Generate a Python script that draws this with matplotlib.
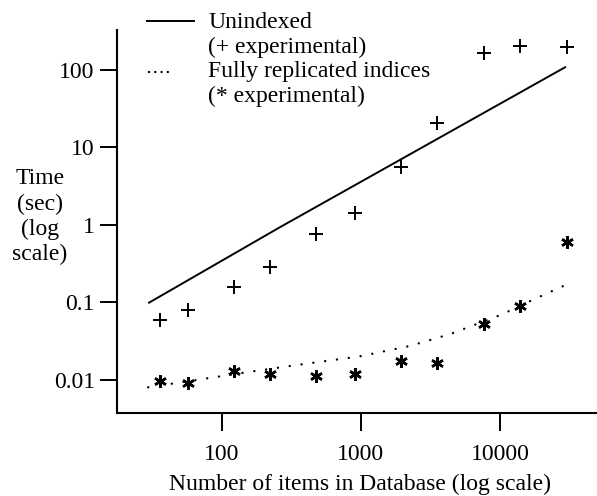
import matplotlib
matplotlib.use("Agg")
import matplotlib.pyplot as plt
from matplotlib.lines import Line2D

plt.rcParams['font.family'] = ['Liberation Serif', 'DejaVu Serif']

# ---- data ----
db_sizes = [36, 57, 123, 222, 477, 905, 1950, 3530, 7700, 14000, 30600]
t_unindexed_exp = [0.059, 0.080, 0.157, 0.286, 0.766, 1.42, 5.57, 20.9, 164, 204, 200]
t_replicated_exp = [0.0097, 0.0091, 0.0130, 0.0118, 0.0112, 0.0118, 0.0174, 0.0166, 0.052, 0.090, 0.598]

model_unindexed_n = [29.5, 261, 2520, 29850]
model_unindexed_t = [0.098, 0.934, 9.15, 110]

model_replicated_n = [29.5, 70.3, 168, 400, 957, 2255, 4420, 10120, 17580, 30700]
model_replicated_t = [0.00805, 0.0102, 0.01294, 0.0162, 0.0200, 0.0275, 0.0393, 0.069, 0.110, 0.173]

x_ticks = [100, 1000, 10000]
x_ticklabels = ["100", "1000", "10000"]
y_ticks = [0.01, 0.1, 1, 10, 100]
y_ticklabels = ["0.01", "0.1", "1", "10", "100"]

legend_lines = ["Unindexed", "(+ experimental)", "Fully replicated indices", "(* experimental)"]
ylabel_lines = ["Time", "(sec)", "(log", "scale)"]
xlabel = "Number of items in Database (log scale)"

W, H = 597, 496
fig = plt.figure(figsize=(W / 100, H / 100), dpi=100)
ax = fig.add_axes([117 / W, 1 - 413 / H, (597 - 117) / W, (413 - 30) / H])

ax.set_xscale('log')
ax.set_yscale('log')
ax.set_xlim(17.6, 49900)
ax.set_ylim(0.00375, 328)

fs = 17

ax.plot(model_unindexed_n, model_unindexed_t, color='black', lw=1.4, solid_capstyle='butt')
ax.plot(model_replicated_n, model_replicated_t, color='black', lw=1.7,
        linestyle=(0, (0.05, 5.0)), dash_capstyle='round')
ax.plot(db_sizes, t_unindexed_exp, linestyle='none', marker='+', markersize=10,
        markeredgewidth=1.4, color='black')
ax.plot(db_sizes, t_replicated_exp, linestyle='none', marker=(6, 2, 0), markersize=9,
        markeredgewidth=1.8, color='black')

for s in ['top', 'right']:
    ax.spines[s].set_visible(False)
for s in ['left', 'bottom']:
    ax.spines[s].set_linewidth(1.5)

ax.minorticks_off()
ax.set_xticks(x_ticks)
ax.set_xticklabels(x_ticklabels)
ax.set_yticks(y_ticks)
ax.set_yticklabels(y_ticklabels)
ax.tick_params(axis='both', which='minor', length=0)
ax.tick_params(axis='x', direction='out', length=13, width=1.4, pad=9, labelsize=fs)
ax.tick_params(axis='y', direction='out', length=12, width=1.4, pad=4, labelsize=fs)

# legend drawn by hand (handles aligned with first text line)
fig.add_artist(Line2D([147 / W, 194 / W], [1 - 21 / H, 1 - 21 / H], color='black', lw=1.4,
                      transform=fig.transFigure))
fig.add_artist(Line2D([149 / W, 171 / W], [1 - 72 / H, 1 - 72 / H], color='black', lw=1.7,
                      linestyle=(0, (0.05, 2.6)), dash_capstyle='round', transform=fig.transFigure))
for txt, yc in zip(legend_lines, [22, 47, 71, 96]):
    fig.text(208 / W, 1 - yc / H, txt, ha='left', va='center', fontsize=fs)

for txt, yc in zip(ylabel_lines, [178, 204, 229, 254]):
    fig.text(40 / W, 1 - yc / H, txt, ha='center', va='center', fontsize=fs)

fig.text(360 / W, 1 - 484 / H, xlabel, ha='center', va='center', fontsize=fs)

fig.savefig("out.png", dpi=100)
